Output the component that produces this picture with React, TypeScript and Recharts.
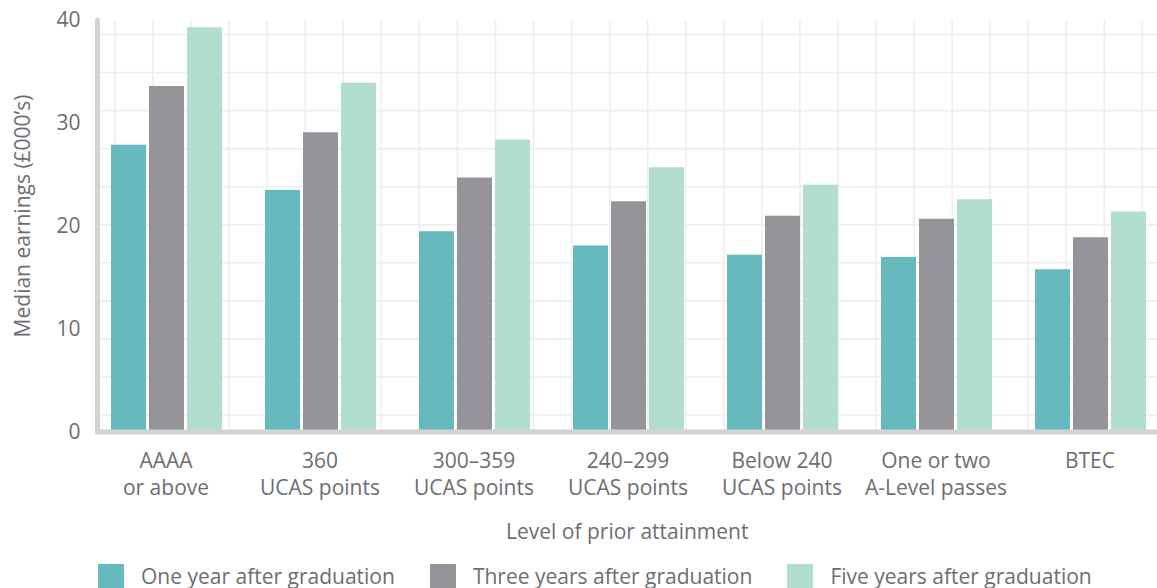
import React from 'react';
import { BarChart, Bar, XAxis, YAxis, CartesianGrid, Legend } from 'recharts';

const categories = [
  'AAAA\nor above',
  '360\nUCAS points',
  '300–359\nUCAS points',
  '240–299\nUCAS points',
  'Below 240\nUCAS points',
  'One or two\nA-Level passes',
  'BTEC',
];
const oneYear = [27.9, 23.5, 19.5, 18.1, 17.2, 17.0, 15.8];
const threeYears = [33.6, 29.1, 24.7, 22.4, 21.0, 20.7, 18.9];
const fiveYears = [39.3, 33.9, 28.4, 25.7, 24.0, 22.6, 21.4];
const yTicks = [0, 10, 20, 30, 40];

const series = [
  { key: 'one', name: 'One year after graduation', color: '#66b9bc' },
  { key: 'three', name: 'Three years after graduation', color: '#959599' },
  { key: 'five', name: 'Five years after graduation', color: '#b2ddd1' },
];

const data = categories.map((label, i) => ({
  label,
  one: oneYear[i],
  three: threeYears[i],
  five: fiveYears[i],
}));

const FONT = '"Open Sans", sans-serif';
const TEXT = '#6d6e71';
const AXIS = '#d3d3d3';
const CELL = 38.05;
const SIZE = 21;

// background grid is a plain square pattern, not tied to the value ticks
const horizontalLines = ({ offset }: any) => {
  const pts: number[] = [];
  for (let y = offset.top + offset.height - 17; y > offset.top; y -= CELL) pts.push(y);
  return pts;
};
const verticalLines = ({ offset }: any) => {
  const pts: number[] = [];
  for (let x = offset.left + 17.5; x < offset.left + offset.width; x += CELL) pts.push(x);
  return pts;
};

const CategoryTick = (props: any) => {
  const { x, y, payload } = props;
  const lines = String(payload.value).split('\n');
  return (
    <text x={x} y={y} textAnchor="middle" fill={TEXT} fontSize={SIZE} fontFamily={FONT}>
      {lines.map((line, i) => (
        <tspan key={i} x={x} dy={i === 0 ? '0.71em' : 27}>
          {line}
        </tspan>
      ))}
    </text>
  );
};

const YTitle = (props: any) => {
  const { viewBox } = props;
  const cx = viewBox.x - 15.5;
  const cy = viewBox.y + viewBox.height / 2 - 10;
  return (
    <text
      x={cx}
      y={cy}
      transform={`rotate(-90, ${cx}, ${cy})`}
      textAnchor="middle"
      dominantBaseline="central"
      fill={TEXT}
      fontSize={SIZE}
      fontFamily={FONT}
    >
      Median earnings (£000’s)
    </text>
  );
};

const XTitle = (props: any) => {
  const { viewBox } = props;
  return (
    <text
      x={viewBox.x + viewBox.width / 2}
      y={viewBox.y + 99}
      textAnchor="middle"
      dominantBaseline="central"
      fill={TEXT}
      fontSize={SIZE}
      fontFamily={FONT}
    >
      Level of prior attainment
    </text>
  );
};

const LegendRow = () => (
  <div
    style={{
      display: 'flex',
      alignItems: 'flex-start',
      paddingLeft: 98,
      fontFamily: FONT,
      fontSize: SIZE,
      lineHeight: '24px',
      color: TEXT,
      whiteSpace: 'nowrap',
    }}
  >
    {series.map((s) => (
      <div key={s.key} style={{ display: 'flex', alignItems: 'flex-start', marginRight: 35 }}>
        <span style={{ width: 26, height: 26, background: s.color, marginRight: 17, display: 'inline-block' }} />
        <span>{s.name}</span>
      </div>
    ))}
  </div>
);

const App: React.FC = () => {
  return (
    <div style={{ position: 'absolute', left: 0, top: 0 }}>
      <BarChart
        width={1157}
        height={588}
        data={data}
        margin={{ top: 20, right: 0, left: 37.5, bottom: 0 }}
        barGap={3}
        barSize={35}
      >
        <CartesianGrid
          stroke="#eeeeee"
          strokeWidth={1.6}
          horizontalCoordinatesGenerator={horizontalLines}
          verticalCoordinatesGenerator={verticalLines}
        />
        <XAxis
          dataKey="label"
          height={156}
          padding={{ left: -8.5, right: -10 }}
          tickLine={false}
          tickSize={0}
          tickMargin={21}
          interval={0}
          tick={<CategoryTick />}
          axisLine={{ stroke: AXIS, strokeWidth: 5, strokeLinecap: 'round' }}
          label={{ content: <XTitle /> }}
        />
        <YAxis
          width={60}
          domain={[0, 40]}
          ticks={yTicks}
          tickLine={false}
          tickSize={0}
          tickMargin={17}
          tick={{ fill: TEXT, fontSize: SIZE, fontFamily: FONT }}
          axisLine={{ stroke: AXIS, strokeWidth: 5, strokeLinecap: 'round' }}
          label={{ content: <YTitle /> }}
        />
        <Legend
          verticalAlign="middle"
          wrapperStyle={{ top: 564, left: 0, width: 1157 }}
          content={<LegendRow />}
        />
        {series.map((s) => (
          <Bar key={s.key} dataKey={s.key} name={s.name} fill={s.color} isAnimationActive={false} />
        ))}
      </BarChart>
    </div>
  );
};

export default App;
